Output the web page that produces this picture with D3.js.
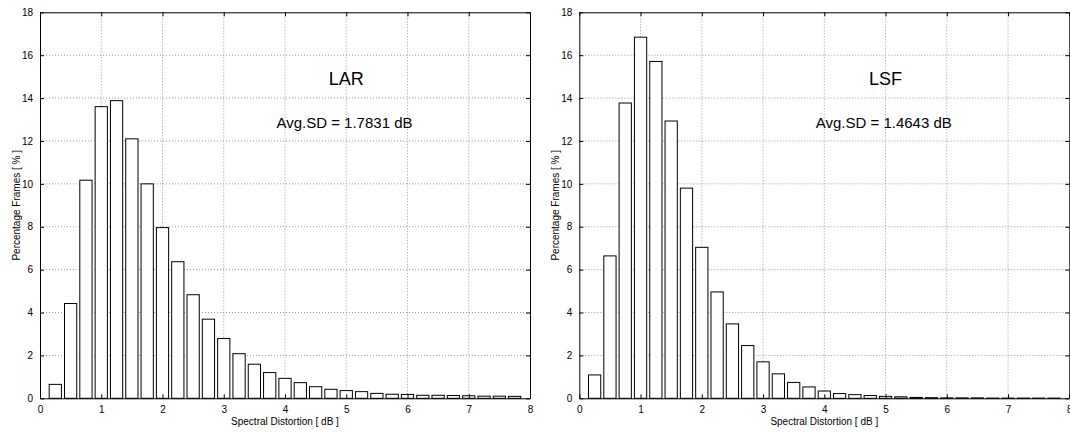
<!DOCTYPE html>
<html>
<head>
<meta charset="utf-8">
<script src="https://cdn.jsdelivr.net/npm/d3@7"></script>
<style>
  body { margin: 0; background: #fff; }
  svg { display: block; font-family: "Liberation Sans", Arial, sans-serif; }
</style>
</head>
<body>
<svg id="chart" width="1070" height="432"></svg>
<script>
// histogram bin centres (dB)
const binCenters = [0.25, 0.5, 0.75, 1, 1.25, 1.5, 1.75, 2, 2.25, 2.5, 2.75, 3, 3.25, 3.5, 3.75, 4,
  4.25, 4.5, 4.75, 5, 5.25, 5.5, 5.75, 6, 6.25, 6.5, 6.75, 7, 7.25, 7.5, 7.75];

const larValues = [0.65, 4.42, 10.17, 13.6, 13.88, 12.1, 10.0, 7.96, 6.37, 4.83, 3.69, 2.79, 2.08, 1.59, 1.2, 0.93,
  0.73, 0.54, 0.42, 0.36, 0.31, 0.23, 0.19, 0.18, 0.14, 0.14, 0.13, 0.12, 0.1, 0.1, 0.09];

const lsfValues = [1.09, 6.64, 13.77, 16.84, 15.71, 12.93, 9.8, 7.04, 4.96, 3.47, 2.46, 1.7, 1.14, 0.74, 0.53, 0.34,
  0.22, 0.17, 0.13, 0.09, 0.07, 0.04, 0.03, 0.02, 0.02, 0.02, 0.01, 0.01, 0.01, 0.01, 0.01];

const xTicks = [0, 1, 2, 3, 4, 5, 6, 7, 8];
const yTicks = [0, 2, 4, 6, 8, 10, 12, 14, 16, 18];

const panels = [
  { name: "LAR", avg: "Avg.SD = 1.7831 dB", values: larValues, left: 40 },
  { name: "LSF", avg: "Avg.SD = 1.4643 dB", values: lsfValues, left: 579.3 }
];

const plotW = 490;
const plotTop = 12.3;
const plotBottom = 398.3;
const barWidth = 0.2; // 0.8 of the 0.25 dB bin

const svg = d3.select("#chart");

panels.forEach(p => {
  const x = d3.scaleLinear().domain([0, 8]).range([p.left, p.left + plotW]);
  const y = d3.scaleLinear().domain([0, 18]).range([plotBottom, plotTop]);

  const g = svg.append("g");

  // dotted grid
  g.selectAll("line.gx")
    .data(xTicks.slice(1, -1))
    .enter().append("line")
    .attr("x1", d => x(d)).attr("x2", d => x(d))
    .attr("y1", plotTop).attr("y2", plotBottom)
    .attr("stroke", "#999").attr("stroke-width", 1)
    .attr("stroke-dasharray", "1,2");

  g.selectAll("line.gy")
    .data(yTicks.slice(1, -1))
    .enter().append("line")
    .attr("x1", x(0)).attr("x2", x(8))
    .attr("y1", d => y(d)).attr("y2", d => y(d))
    .attr("stroke", "#999").attr("stroke-width", 1)
    .attr("stroke-dasharray", "1,2");

  // bars
  g.selectAll("rect.bar")
    .data(p.values)
    .enter().append("rect")
    .attr("class", "bar")
    .attr("x", (d, i) => x(binCenters[i] - barWidth / 2))
    .attr("width", (d, i) => x(binCenters[i] + barWidth / 2) - x(binCenters[i] - barWidth / 2))
    .attr("y", d => y(d))
    .attr("height", d => y(0) - y(d))
    .attr("fill", "#fff")
    .attr("stroke", "#000")
    .attr("stroke-width", 1);

  // axes: inward ticks on all four sides
  const axisStyle = sel => {
    sel.select(".domain").attr("stroke", "#000");
    sel.selectAll(".tick line").attr("stroke", "#000");
    sel.selectAll("text").attr("font-size", "10px").attr("fill", "#000")
      .attr("font-family", "Liberation Sans, Arial, sans-serif");
  };

  g.append("g")
    .attr("transform", `translate(0,${plotBottom})`)
    .call(d3.axisBottom(x).tickValues(xTicks).tickSizeInner(-4).tickSizeOuter(0).tickPadding(8))
    .call(axisStyle);

  g.append("g")
    .attr("transform", `translate(0,${plotTop})`)
    .call(d3.axisTop(x).tickValues(xTicks).tickSizeInner(-4).tickSizeOuter(0).tickFormat(""))
    .call(axisStyle);

  g.append("g")
    .attr("transform", `translate(${x(0)},0)`)
    .call(d3.axisLeft(y).tickValues(yTicks).tickSizeInner(-4).tickSizeOuter(0).tickPadding(7))
    .call(axisStyle);

  g.append("g")
    .attr("transform", `translate(${x(8)},0)`)
    .call(d3.axisRight(y).tickValues(yTicks).tickSizeInner(-4).tickSizeOuter(0).tickFormat(""))
    .call(axisStyle);

  // axis labels
  g.append("text")
    .attr("x", x(4)).attr("y", 425)
    .attr("text-anchor", "middle")
    .attr("font-size", "10px")
    .text("Spectral Distortion [ dB ]");

  g.append("text")
    .attr("transform", `translate(${p.left - 20},${(plotTop + plotBottom) / 2}) rotate(-90)`)
    .attr("text-anchor", "middle")
    .attr("font-size", "10px")
    .text("Percentage Frames [ % ]");

  // annotations
  g.append("text")
    .attr("x", x(5)).attr("y", y(14.6))
    .attr("text-anchor", "middle")
    .attr("font-size", "18px")
    .text(p.name);

  g.append("text")
    .attr("x", x(3.86)).attr("y", y(12.6))
    .attr("font-size", "15px")
    .text(p.avg);
});
</script>
</body>
</html>
